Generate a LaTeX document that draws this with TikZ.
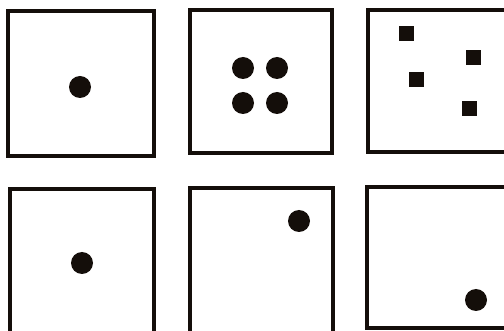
\documentclass[tikz,border=0pt]{standalone}
\usepackage{xcolor}
\usepackage{tikz}
\usetikzlibrary{positioning, calc}
\definecolor{inkblack}{HTML}{140E0A}
\newcommand{\cardframe}[4]{%
  \draw[draw=inkblack, line width=3.2pt] (#1,#2) rectangle (#3,#4);%
}
\newcommand{\carddot}[2]{%
  \fill[inkblack] (#1,#2) circle (11);%
}
\newcommand{\cardsquare}[2]{%
  \fill[inkblack] (#1-7.5,#2-7.5) rectangle (#1+7.5,#2+7.5);%
}

\begin{document}
\begin{tikzpicture}[x=1pt, y=-1pt]
    \useasboundingbox (0,0) rectangle (504,331);
    % top row
    \cardframe{8}{11}{154}{156}
    \carddot{80}{87}

    \cardframe{190}{10}{332}{153}
    \foreach \dx in {243,277} {
      \foreach \dy in {68,103} {
        \carddot{\dx}{\dy}
      }
    }

    \cardframe{368}{10}{520}{152}
    \cardsquare{406}{34} \cardsquare{473}{58} \cardsquare{416}{80} \cardsquare{469}{109}

    % bottom row
    \cardframe{10}{189}{154}{345}
    \carddot{82}{263}

    \cardframe{190}{188}{333}{345}
    \carddot{299}{221}

    \cardframe{367}{187}{520}{328}
    \carddot{476}{300}
  \end{tikzpicture}
\end{document}
